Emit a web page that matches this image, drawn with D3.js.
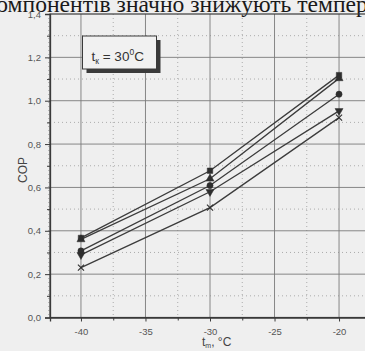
<!DOCTYPE html>
<html>
<head>
<meta charset="utf-8">
<script src="https://cdn.jsdelivr.net/npm/d3@7"></script>
<style>
  html, body { margin: 0; padding: 0; background: #efefef; }
  svg { display: block; }
</style>
</head>
<body>
<svg id="chart" width="365" height="351"></svg>
<script>
// Evaporation temperature, °C
const temps = [-40, -30, -20];

// COP curves at condensing temperature 30 °C
const copSquare   = [0.367, 0.677, 1.118];
const copTriUp    = [0.360, 0.640, 1.103];
const copCircle   = [0.307, 0.609, 1.030];
const copTriDown  = [0.289, 0.580, 0.953];
const copCross    = [0.230, 0.507, 0.922];

const xTicks = [-40, -35, -30, -25, -20];
const yTicks = [0.0, 0.2, 0.4, 0.6, 0.8, 1.0, 1.2, 1.4];

const series = [
  { values: copSquare,  symbol: d3.symbolSquare,   size: 30 },
  { values: copTriUp,   symbol: d3.symbolTriangle, size: 28 },
  { values: copCircle,  symbol: d3.symbolCircle,   size: 30 },
  { values: copTriDown, symbol: d3.symbolTriangle, size: 28, flip: true },
  { values: copCross,   symbol: d3.symbolX,        size: 26, stroke: true }
];

const svg = d3.select("#chart");
const mLeft = 50, mRight = 370, mTop = 14, mBottom = 317.5;

const x = d3.scaleLinear().domain([-42.4, -17.6]).range([mLeft, mRight]);
const y = d3.scaleLinear().domain([0, 1.4]).range([mBottom, mTop]);

// Text line running across the top of the page
svg.append("text")
  .attr("x", -14).attr("y", 12)
  .attr("font-family", "Liberation Serif, Times New Roman, serif")
  .attr("font-size", 23.6)
  .attr("fill", "#1a1a1a")
  .text("компонентів значно знижують температуру");

const g = svg.append("g");

// Minor dotted grid
const minorX = d3.range(-42.5, -17, 2.5).filter(v => v % 5 !== 0);
const minorY = d3.range(0.1, 1.4, 0.2);
g.selectAll(".mgx").data(minorX).join("line")
  .attr("x1", d => x(d)).attr("x2", d => x(d))
  .attr("y1", mTop).attr("y2", mBottom)
  .attr("stroke", "#9a9a9a").attr("stroke-width", 0.8)
  .attr("stroke-dasharray", "1,3");
g.selectAll(".mgy").data(minorY).join("line")
  .attr("x1", mLeft).attr("x2", mRight)
  .attr("y1", d => y(d)).attr("y2", d => y(d))
  .attr("stroke", "#9a9a9a").attr("stroke-width", 0.8)
  .attr("stroke-dasharray", "1,3");

// Major grid
g.selectAll(".gx").data(xTicks).join("line")
  .attr("x1", d => x(d)).attr("x2", d => x(d))
  .attr("y1", mTop).attr("y2", mBottom)
  .attr("stroke", "#7a7a7a").attr("stroke-width", 0.9);
g.selectAll(".gy").data(yTicks.slice(1, -1)).join("line")
  .attr("x1", mLeft).attr("x2", mRight)
  .attr("y1", d => y(d)).attr("y2", d => y(d))
  .attr("stroke", "#7a7a7a").attr("stroke-width", 0.9);

// Frame
g.append("rect")
  .attr("x", mLeft).attr("y", mTop)
  .attr("width", mRight - mLeft).attr("height", mBottom - mTop)
  .attr("fill", "none").attr("stroke", "#3a3a3a").attr("stroke-width", 1.2);

// Axes
const yAxis = d3.axisLeft(y).tickValues(yTicks).tickSize(5).tickPadding(4)
  .tickFormat(d => d3.format(".1f")(d).replace(".", ","));
svg.append("g").attr("transform", `translate(${mLeft},0)`).call(yAxis);
svg.append("g").attr("transform", `translate(${mLeft},0)`)
  .call(d3.axisLeft(y).tickValues(minorY).tickSize(3).tickFormat(""))
  .call(s => s.select(".domain").remove());

const xAxis = d3.axisBottom(x).tickValues(xTicks).tickSize(4).tickPadding(7)
  .tickFormat(d => String(d));
svg.append("g").attr("transform", `translate(0,${mBottom})`).call(xAxis);
svg.append("g").attr("transform", `translate(0,${mBottom})`)
  .call(d3.axisBottom(x).tickValues(minorX.filter(v => v > -42.4)).tickSize(3).tickFormat(""))
  .call(s => s.select(".domain").remove());

svg.selectAll(".tick line").attr("stroke", "#3a3a3a");
svg.selectAll(".domain").attr("stroke", "#3a3a3a").attr("stroke-width", 1.3);
svg.selectAll(".tick text")
  .attr("font-family", "Liberation Sans, Arial, sans-serif")
  .attr("font-size", 9.5).attr("fill", "#555");

// Axis titles
svg.append("text")
  .attr("transform", `translate(27,170) rotate(-90)`)
  .attr("text-anchor", "middle")
  .attr("font-family", "Liberation Sans, Arial, sans-serif")
  .attr("font-size", 12).attr("fill", "#444")
  .text("COP");

const xt = svg.append("text")
  .attr("x", 202).attr("y", 346)
  .attr("font-family", "Liberation Sans, Arial, sans-serif")
  .attr("font-size", 12).attr("fill", "#444");
xt.append("tspan").text("t");
xt.append("tspan").attr("font-size", 7).attr("dy", 2).text("m");
xt.append("tspan").attr("dy", -2).text(", °C");

// Curves
const line = d3.line().x((d, i) => x(temps[i])).y(d => y(d));
const sg = svg.append("g");
series.forEach(s => {
  sg.append("path")
    .attr("d", line(s.values))
    .attr("fill", "none").attr("stroke", "#3c3c3c").attr("stroke-width", 1.3);
});
series.forEach(s => {
  sg.selectAll(null).data(s.values).join("path")
    .attr("transform", (d, i) => `translate(${x(temps[i])},${y(d)})${s.flip ? " rotate(180)" : ""}`)
    .attr("d", d3.symbol().type(s.symbol).size(s.size))
    .attr("fill", s.stroke ? "none" : "#2e2e2e")
    .attr("stroke", "#2e2e2e").attr("stroke-width", s.stroke ? 1.1 : 0.5);
});

// Condition label with drop shadow
const bx = 82.5, by = 36, bw = 74, bh = 33;
svg.append("rect").attr("x", bx + 4).attr("y", by + 4).attr("width", bw).attr("height", bh)
  .attr("fill", "#3a3a3a");
svg.append("rect").attr("x", bx).attr("y", by).attr("width", bw).attr("height", bh)
  .attr("fill", "#f1f1f1").attr("stroke", "#3a3a3a").attr("stroke-width", 1);
const lt = svg.append("text")
  .attr("x", bx + 9).attr("y", by + 25)
  .attr("font-family", "Liberation Sans, Arial, sans-serif")
  .attr("font-size", 13.5).attr("fill", "#333");
lt.append("tspan").text("t");
lt.append("tspan").attr("font-size", 8.5).attr("dy", 3).text("к");
lt.append("tspan").attr("dy", -3).text(" = 30");
lt.append("tspan").attr("font-size", 8.5).attr("dy", -6).text("0");
lt.append("tspan").attr("dy", 6).text("C");
</script>
</body>
</html>
